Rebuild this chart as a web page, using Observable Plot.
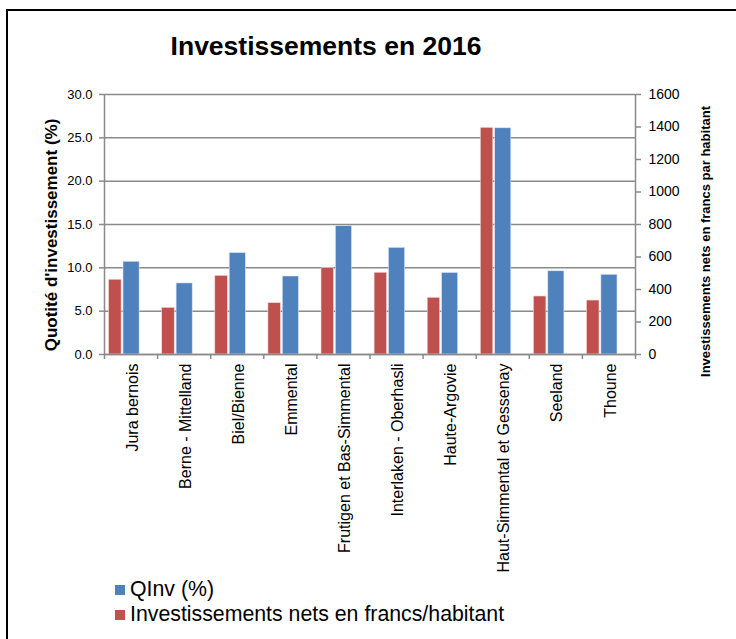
<!DOCTYPE html>
<html>
<head>
<meta charset="utf-8">
<script src="https://cdn.jsdelivr.net/npm/d3@7"></script>
<script src="https://cdn.jsdelivr.net/npm/@observablehq/plot@0.6"></script>
<style>
  body { margin: 0; background: #fff; font-family: "Liberation Sans", Arial, sans-serif; }
  #wrap { position: relative; width: 736px; height: 639px; overflow: hidden; }
  #frame { position: absolute; left: 6px; top: 9px; width: 740px; height: 640px; border-left: 2px solid #000; border-top: 2px solid #000; }
  #chart { position: absolute; left: 0; top: 0; }
  #title { position: absolute; left: 0; width: 652px; top: 31px; text-align: center; font-weight: bold; font-size: 26.5px; color: #000; }
  .ytitle { position: absolute; font-weight: bold; color: #000; white-space: nowrap; transform-origin: center center; }
  #legend { position: absolute; left: 115px; top: 577px; font-size: 21.3px; color: #000; }
  #legend div { display: flex; align-items: center; height: 25px; }
  #legend span.sw { display: inline-block; width: 10px; height: 10px; margin-right: 5px; }
</style>
</head>
<body>
<div id="wrap">
  <div id="frame"></div>
  <div id="chart"></div>
  <div id="title"></div>
  <div id="ytitleL" class="ytitle"></div>
  <div id="ytitleR" class="ytitle"></div>
  <div id="legend"></div>
</div>
<script>
// ---- data ----
const categories = ["Jura bernois", "Berne - Mittelland", "Biel/Bienne", "Emmental", "Frutigen et Bas-Simmental", "Interlaken - Oberhasli", "Haute-Argovie", "Haut-Simmental et Gessenay", "Seeland", "Thoune"];
const qinv = [10.7, 8.2, 11.7, 9.0, 14.8, 12.3, 9.4, 26.1, 9.6, 9.2];           // % (left axis)
const invest = [460, 287, 484, 316, 531, 503, 349, 1395, 357, 332];             // francs/habitant (right axis)
const leftTicks = [0, 5, 10, 15, 20, 25, 30];
const rightTicks = [0, 200, 400, 600, 800, 1000, 1200, 1400, 1600];
const leftMax = 30, rightMax = 1600;
const titleText = "Investissements en 2016";
const leftTitle = "Quotité d'investissement (%)";
const rightTitle = "Investissements nets en francs par habitant";
const seriesNames = ["QInv (%)", "Investissements nets en francs/habitant"];
const colors = {blue: "#4F81BD", red: "#C0504D"};

const toLeft = v => v * leftMax / rightMax;
const rows = categories.map((c, i) => ({i, c, q: qinv[i], inv: invest[i]}));
const gridColor = "#8a8a8a";

const plot = Plot.plot({
  width: 736,
  height: 639,
  marginLeft: 104,
  marginRight: 101,
  marginTop: 94,
  marginBottom: 285,
  style: {fontFamily: "'Liberation Sans', Arial, sans-serif", background: "transparent", color: "#000"},
  x: {type: "linear", domain: [0, categories.length], axis: null},
  y: {domain: [0, leftMax], axis: null},
  marks: [
    Plot.ruleY(leftTicks, {stroke: gridColor, strokeWidth: 1.5}),
    Plot.rectY(rows, {x1: "i", x2: d => d.i + 1, y1: 0, y2: d => toLeft(d.inv), fill: colors.red, stroke: "#f3d9d8", strokeWidth: 0.6, insetLeft: 4.6, insetRight: 36}),
    Plot.rectY(rows, {x1: "i", x2: d => d.i + 1, y1: 0, y2: "q", fill: colors.blue, stroke: "#d6e2f1", strokeWidth: 0.6, insetLeft: 19, insetRight: 18}),
    Plot.ruleX([0, categories.length], {stroke: gridColor, strokeWidth: 1.5}),
    Plot.ruleY([0], {stroke: gridColor, strokeWidth: 1.5}),
    // category boundary ticks
    Plot.axisX(d3.range(categories.length + 1), {tickSize: 5, tickFormat: () => "", stroke: gridColor, strokeWidth: 1.5, label: null}),
    // category labels
    Plot.axisX(d3.range(categories.length).map(i => i + 0.5), {tickSize: 0, tickPadding: 9, tickRotate: -90, tickFormat: v => categories[Math.floor(v)], fontSize: 16, dx: 1.5, label: null}),
    // left axis
    Plot.axisY(leftTicks, {anchor: "left", tickSize: 5, tickPadding: 7, tickFormat: d3.format(".1f"), fontSize: 13, stroke: gridColor, strokeWidth: 1.5, label: null}),
    // right axis (secondary scale mapped onto the left one)
    Plot.axisY(rightTicks.map(toLeft), {anchor: "right", tickSize: 5, tickPadding: 8, tickFormat: v => d3.format("d")(Math.round(v * rightMax / leftMax)), fontSize: 14, stroke: gridColor, strokeWidth: 1.5, label: null})
  ]
});
document.getElementById("chart").appendChild(plot);

document.getElementById("title").textContent = titleText;

const tl = document.getElementById("ytitleL");
tl.textContent = leftTitle;
tl.style.fontSize = "17px";
const tr = document.getElementById("ytitleR");
tr.textContent = rightTitle;
tr.style.fontSize = "13px";
function place(el, cx, cy) {
  const w = el.offsetWidth, h = el.offsetHeight;
  el.style.left = (cx - w / 2) + "px";
  el.style.top = (cy - h / 2) + "px";
  el.style.transform = "rotate(-90deg)";
}
place(tl, 52, 235);
place(tr, 705, 241);

const legend = document.getElementById("legend");
[[seriesNames[0], colors.blue], [seriesNames[1], colors.red]].forEach(([name, col]) => {
  const row = document.createElement("div");
  const sw = document.createElement("span");
  sw.className = "sw";
  sw.style.background = col;
  row.appendChild(sw);
  row.appendChild(document.createTextNode(name));
  legend.appendChild(row);
});
</script>
</body>
</html>
